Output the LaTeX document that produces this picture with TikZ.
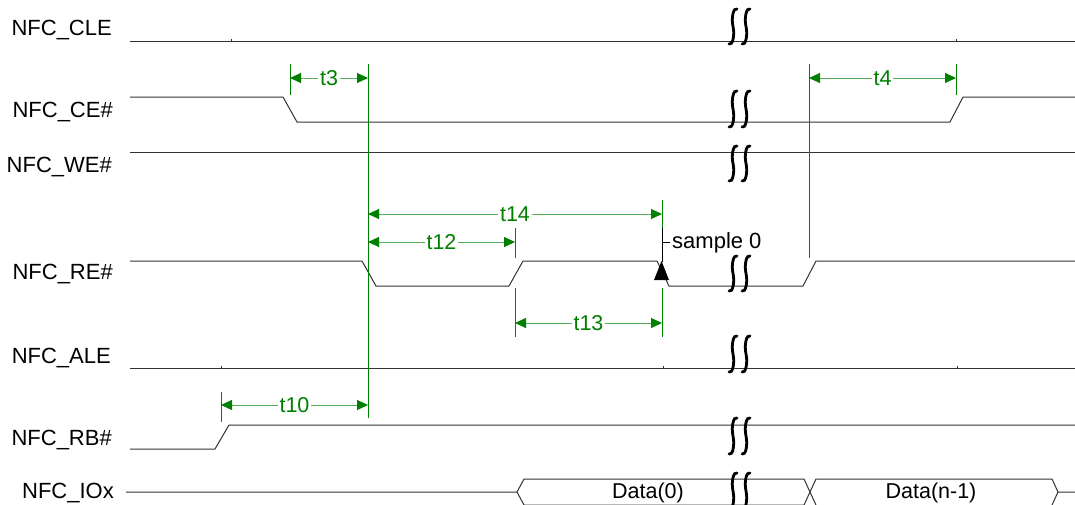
\documentclass[tikz,border=0pt]{standalone}
\usepackage{fontspec}
\setmainfont{Liberation Sans}
\usetikzlibrary{arrows.meta}
\definecolor{dimgreen}{RGB}{0,128,0}
\definecolor{shaftgreen}{RGB}{90,175,90}
\newcommand\squigstroke[3]{%
  \draw[brk] (#1+8,#2+1) .. controls (#1+4.5,#2-1) and (#1+2,#2+10) .. (#1+4,{(#2+#3)/2})
    .. controls (#1+6,#3-10) and (#1+3.5,#3+1) .. (#1,#3-1);}
\newcommand\squig[3]{\squigstroke{#1}{#2}{#3}\squigstroke{#1+13}{#2}{#3}}
\begin{document}
\begin{tikzpicture}[x=1pt,y=-1pt,
  sig/.style={line width=1pt, black!80},
  lbl/.style={font=\fontsize{22}{26}\selectfont, anchor=base east, inner sep=0pt},
  ext/.style={dimgreen, line width=1pt},
  dim/.style={shaftgreen, line width=1pt,
    {Triangle[length=11pt,width=10pt,color=dimgreen]}-{Triangle[length=11pt,width=10pt,color=dimgreen]}},
  dimtxt/.style={font=\fontsize{21.5}{24}\selectfont, text=dimgreen, fill=white, inner sep=2pt},
  datatxt/.style={font=\fontsize{21.5}{24}\selectfont, anchor=base, inner sep=0pt},
  brk/.style={line width=2.8pt, line cap=round, black},
 ]
\useasboundingbox (0,0) rectangle (1075,504);

% signal labels
\node[lbl] (lcle) at (112,35) {NFC\_CLE};
\node[lbl] (lce)  at (113,117) {NFC\_CE\#};
\node[lbl] (lwe)  at (112,172) {NFC\_WE\#};
\node[lbl] (lre)  at (113,279) {NFC\_RE\#};
\node[lbl] (lale) at (111,363) {NFC\_ALE};
\node[lbl] (lrb)  at (112,445) {NFC\_RB\#};
\node[lbl] (lio)  at (114,498) {NFC\_IOx};

% CLE
\draw[sig] (130,41) -- (1075,41);
\draw[sig] (231,41) -- (231,38.5);
\draw[sig] (956,41) -- (956,38.5);
% CE#
\draw[sig] (130,97) -- (283,97) -- (297,122) -- (950,122) -- (963,97) -- (1075,97);
% WE#
\draw[sig] (130,152) -- (1075,152);
% RE#
\draw[sig] (130,261) -- (362,261) -- (376,286) -- (509,286) -- (523,261) -- (657,261)
  -- (669,286) -- (803,286) -- (816,261) -- (1075,261);
% ALE
\draw[sig] (130,368) -- (1075,368);
\draw[sig] (221,368) -- (221,365.5);
\draw[sig] (663,368) -- (663,365.5);
\draw[sig] (957,368) -- (957,365.5);
% RB#
\draw[sig] (130,449) -- (215,449) -- (229,425) -- (1075,425);
% IOx bus
\draw[sig] (126,492) -- (517,492) -- (524,479) -- (804,479) -- (816,505);
\draw[sig] (517,492) -- (524,505) -- (804,505) -- (816,479) -- (1052,479) -- (1058,492) -- (1075,492);
\draw[sig] (1052,505) -- (1058,492);
\node[datatxt] (d0) at (648,498) {Data(0)};
\node[datatxt] (dn) at (931,498) {Data(n-1)};

% break marks
\squig{729}{8}{45}
\squig{729}{90}{128}
\squig{729}{145}{182}
\squig{729}{255}{292}
\squig{729}{335}{373}
\squig{729}{417}{455}
\squig{729}{472}{510}

% sample marker
\coordinate (s0top) at (662,228);
\coordinate (s0tip) at (662,262);
\draw[black, line width=1pt] (s0top) -- (s0tip);
\draw[black, line width=1pt] (662,242) -- (670,242);
\fill[black] (661.5,261) -- (669,280) -- (654,280) -- cycle;
\node[font=\fontsize{22}{26}\selectfont, anchor=base west, inner sep=0pt] (s0) at (672,248) {sample 0};

% extension lines
\coordinate (a3) at (290,78);
\coordinate (b3) at (368,78);
\coordinate (a4) at (809,78);
\coordinate (b4) at (956,78);
\coordinate (a14) at (368,214);
\coordinate (b14) at (662,214);
\coordinate (a12) at (368,242);
\coordinate (b12) at (515,242);
\coordinate (a13) at (515,323);
\coordinate (b13) at (662,323);
\coordinate (a10) at (221,405);
\coordinate (b10) at (368,405);

\draw[ext] (290,64) -- (290,95);
\draw[ext] (368,64) -- (368,418);
\draw[ext] (809,64) -- (809,258);
\draw[ext] (956,64) -- (956,95);
\draw[ext] (662,200) -- (662,228);
\draw[ext] (515,228) -- (515,258);
\draw[ext] (515,288) -- (515,337);
\draw[ext] (662,288) -- (662,337);
\draw[ext] (221,392) -- (221,422);

% dimension arrows
\draw[dim] (a3) -- node[dimtxt] (t3) {t3} (b3);
\draw[dim] (a4) -- node[dimtxt] (t4) {t4} (b4);
\draw[dim] (a14) -- node[dimtxt] (t14) {t14} (b14);
\draw[dim] (a12) -- node[dimtxt] (t12) {t12} (b12);
\draw[dim] (a13) -- node[dimtxt] (t13) {t13} (b13);
\draw[dim] (a10) -- node[dimtxt] (t10) {t10} (b10);
\end{tikzpicture}
\end{document}
